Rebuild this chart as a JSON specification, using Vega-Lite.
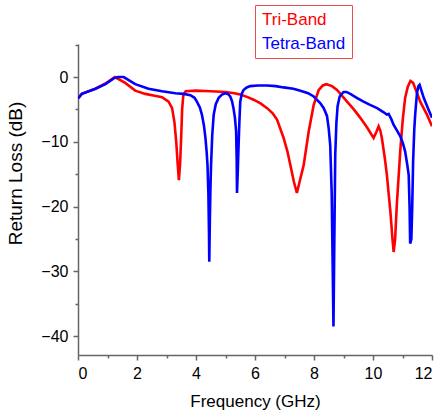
{
  "$schema": "https://vega.github.io/schema/vega-lite/v6.json",
  "width": 354,
  "height": 311,
  "autosize": "none",
  "padding": {"left": 78, "top": 44, "right": 9, "bottom": 61},
  "background": "white",
  "config": {
    "view": {"stroke": null},
    "font": "Liberation Sans",
    "axis": {
      "grid": false,
      "domainColor": "#666666",
      "domainWidth": 1.5,
      "tickColor": "#666666",
      "tickWidth": 1.5,
      "labelColor": "#000000",
      "labelFont": "Liberation Sans",
      "labelFontSize": 16,
      "titleColor": "#000000",
      "titleFont": "Liberation Sans",
      "titleFontWeight": "normal"
    }
  },
  "datasets": {
    "curves": [
      {"f": 0, "rl": -3.3, "band": "Tri-Band"},
      {"f": 0.13, "rl": -2.6, "band": "Tri-Band"},
      {"f": 0.59, "rl": -1.8, "band": "Tri-Band"},
      {"f": 0.93, "rl": -1.0, "band": "Tri-Band"},
      {"f": 1.25, "rl": 0.0, "band": "Tri-Band"},
      {"f": 1.6, "rl": -0.9, "band": "Tri-Band"},
      {"f": 1.94, "rl": -2.1, "band": "Tri-Band"},
      {"f": 2.28, "rl": -2.6, "band": "Tri-Band"},
      {"f": 2.6, "rl": -2.9, "band": "Tri-Band"},
      {"f": 2.85, "rl": -3.1, "band": "Tri-Band"},
      {"f": 3.07, "rl": -3.8, "band": "Tri-Band"},
      {"f": 3.19, "rl": -4.8, "band": "Tri-Band"},
      {"f": 3.27, "rl": -7.0, "band": "Tri-Band"},
      {"f": 3.33, "rl": -10.0, "band": "Tri-Band"},
      {"f": 3.38, "rl": -13.5, "band": "Tri-Band"},
      {"f": 3.42, "rl": -15.9, "band": "Tri-Band"},
      {"f": 3.46, "rl": -13.5, "band": "Tri-Band"},
      {"f": 3.5, "rl": -9.0, "band": "Tri-Band"},
      {"f": 3.53, "rl": -5.0, "band": "Tri-Band"},
      {"f": 3.57, "rl": -2.8, "band": "Tri-Band"},
      {"f": 3.65, "rl": -2.2, "band": "Tri-Band"},
      {"f": 4.0, "rl": -2.1, "band": "Tri-Band"},
      {"f": 4.5, "rl": -2.2, "band": "Tri-Band"},
      {"f": 5.0, "rl": -2.3, "band": "Tri-Band"},
      {"f": 5.3, "rl": -2.5, "band": "Tri-Band"},
      {"f": 5.5, "rl": -2.7, "band": "Tri-Band"},
      {"f": 5.75, "rl": -3.1, "band": "Tri-Band"},
      {"f": 5.95, "rl": -3.5, "band": "Tri-Band"},
      {"f": 6.2, "rl": -4.1, "band": "Tri-Band"},
      {"f": 6.41, "rl": -4.8, "band": "Tri-Band"},
      {"f": 6.6, "rl": -5.6, "band": "Tri-Band"},
      {"f": 6.75, "rl": -6.6, "band": "Tri-Band"},
      {"f": 6.97, "rl": -9.4, "band": "Tri-Band"},
      {"f": 7.1, "rl": -11.5, "band": "Tri-Band"},
      {"f": 7.2, "rl": -13.6, "band": "Tri-Band"},
      {"f": 7.32, "rl": -16.2, "band": "Tri-Band"},
      {"f": 7.42, "rl": -17.9, "band": "Tri-Band"},
      {"f": 7.52, "rl": -16.0, "band": "Tri-Band"},
      {"f": 7.65, "rl": -13.6, "band": "Tri-Band"},
      {"f": 7.82, "rl": -8.4, "band": "Tri-Band"},
      {"f": 7.99, "rl": -4.3, "band": "Tri-Band"},
      {"f": 8.16, "rl": -2.0, "band": "Tri-Band"},
      {"f": 8.3, "rl": -1.3, "band": "Tri-Band"},
      {"f": 8.42, "rl": -1.1, "band": "Tri-Band"},
      {"f": 8.61, "rl": -1.4, "band": "Tri-Band"},
      {"f": 8.78, "rl": -2.0, "band": "Tri-Band"},
      {"f": 9.12, "rl": -3.8, "band": "Tri-Band"},
      {"f": 9.35, "rl": -5.0, "band": "Tri-Band"},
      {"f": 9.57, "rl": -6.3, "band": "Tri-Band"},
      {"f": 9.8, "rl": -7.8, "band": "Tri-Band"},
      {"f": 10.02, "rl": -9.4, "band": "Tri-Band"},
      {"f": 10.12, "rl": -8.4, "band": "Tri-Band"},
      {"f": 10.19, "rl": -7.6, "band": "Tri-Band"},
      {"f": 10.25, "rl": -8.3, "band": "Tri-Band"},
      {"f": 10.3, "rl": -9.4, "band": "Tri-Band"},
      {"f": 10.4, "rl": -12.5, "band": "Tri-Band"},
      {"f": 10.47, "rl": -15.1, "band": "Tri-Band"},
      {"f": 10.59, "rl": -20.8, "band": "Tri-Band"},
      {"f": 10.66, "rl": -25.0, "band": "Tri-Band"},
      {"f": 10.7, "rl": -27.0, "band": "Tri-Band"},
      {"f": 10.75, "rl": -25.0, "band": "Tri-Band"},
      {"f": 10.81, "rl": -19.5, "band": "Tri-Band"},
      {"f": 10.93, "rl": -11.0, "band": "Tri-Band"},
      {"f": 11.01, "rl": -6.5, "band": "Tri-Band"},
      {"f": 11.09, "rl": -3.2, "band": "Tri-Band"},
      {"f": 11.18, "rl": -1.5, "band": "Tri-Band"},
      {"f": 11.27, "rl": -0.6, "band": "Tri-Band"},
      {"f": 11.36, "rl": -0.9, "band": "Tri-Band"},
      {"f": 11.48, "rl": -2.3, "band": "Tri-Band"},
      {"f": 11.6, "rl": -3.8, "band": "Tri-Band"},
      {"f": 11.83, "rl": -5.8, "band": "Tri-Band"},
      {"f": 12.0, "rl": -7.6, "band": "Tri-Band"},
      {"f": 0, "rl": -3.3, "band": "Tetra-Band"},
      {"f": 0.13, "rl": -2.6, "band": "Tetra-Band"},
      {"f": 0.59, "rl": -1.8, "band": "Tetra-Band"},
      {"f": 0.93, "rl": -1.1, "band": "Tetra-Band"},
      {"f": 1.21, "rl": -0.2, "band": "Tetra-Band"},
      {"f": 1.35, "rl": 0.0, "band": "Tetra-Band"},
      {"f": 1.55, "rl": 0.0, "band": "Tetra-Band"},
      {"f": 1.94, "rl": -1.1, "band": "Tetra-Band"},
      {"f": 2.39, "rl": -1.8, "band": "Tetra-Band"},
      {"f": 2.85, "rl": -2.2, "band": "Tetra-Band"},
      {"f": 3.3, "rl": -2.5, "band": "Tetra-Band"},
      {"f": 3.58, "rl": -2.6, "band": "Tetra-Band"},
      {"f": 3.81, "rl": -2.8, "band": "Tetra-Band"},
      {"f": 3.95, "rl": -3.2, "band": "Tetra-Band"},
      {"f": 4.03, "rl": -3.8, "band": "Tetra-Band"},
      {"f": 4.13, "rl": -4.7, "band": "Tetra-Band"},
      {"f": 4.2, "rl": -5.8, "band": "Tetra-Band"},
      {"f": 4.27, "rl": -7.5, "band": "Tetra-Band"},
      {"f": 4.32, "rl": -9.4, "band": "Tetra-Band"},
      {"f": 4.36, "rl": -11.5, "band": "Tetra-Band"},
      {"f": 4.39, "rl": -13.6, "band": "Tetra-Band"},
      {"f": 4.42, "rl": -18.0, "band": "Tetra-Band"},
      {"f": 4.44, "rl": -24.0, "band": "Tetra-Band"},
      {"f": 4.45, "rl": -28.5, "band": "Tetra-Band"},
      {"f": 4.47, "rl": -22.0, "band": "Tetra-Band"},
      {"f": 4.49, "rl": -17.0, "band": "Tetra-Band"},
      {"f": 4.51, "rl": -13.6, "band": "Tetra-Band"},
      {"f": 4.55, "rl": -9.0, "band": "Tetra-Band"},
      {"f": 4.6, "rl": -5.8, "band": "Tetra-Band"},
      {"f": 4.67, "rl": -4.2, "band": "Tetra-Band"},
      {"f": 4.77, "rl": -3.2, "band": "Tetra-Band"},
      {"f": 4.88, "rl": -2.7, "band": "Tetra-Band"},
      {"f": 4.99, "rl": -2.5, "band": "Tetra-Band"},
      {"f": 5.08, "rl": -2.6, "band": "Tetra-Band"},
      {"f": 5.16, "rl": -3.0, "band": "Tetra-Band"},
      {"f": 5.22, "rl": -3.7, "band": "Tetra-Band"},
      {"f": 5.27, "rl": -4.8, "band": "Tetra-Band"},
      {"f": 5.32, "rl": -6.3, "band": "Tetra-Band"},
      {"f": 5.36, "rl": -8.4, "band": "Tetra-Band"},
      {"f": 5.38, "rl": -13.0, "band": "Tetra-Band"},
      {"f": 5.39, "rl": -17.9, "band": "Tetra-Band"},
      {"f": 5.42, "rl": -14.0, "band": "Tetra-Band"},
      {"f": 5.44, "rl": -11.0, "band": "Tetra-Band"},
      {"f": 5.47, "rl": -7.0, "band": "Tetra-Band"},
      {"f": 5.5, "rl": -3.8, "band": "Tetra-Band"},
      {"f": 5.55, "rl": -2.6, "band": "Tetra-Band"},
      {"f": 5.61, "rl": -2.0, "band": "Tetra-Band"},
      {"f": 5.72, "rl": -1.6, "band": "Tetra-Band"},
      {"f": 5.84, "rl": -1.4, "band": "Tetra-Band"},
      {"f": 6.1, "rl": -1.3, "band": "Tetra-Band"},
      {"f": 6.41, "rl": -1.3, "band": "Tetra-Band"},
      {"f": 6.7, "rl": -1.4, "band": "Tetra-Band"},
      {"f": 6.97, "rl": -1.6, "band": "Tetra-Band"},
      {"f": 7.3, "rl": -1.8, "band": "Tetra-Band"},
      {"f": 7.54, "rl": -2.1, "band": "Tetra-Band"},
      {"f": 7.8, "rl": -2.5, "band": "Tetra-Band"},
      {"f": 7.99, "rl": -3.0, "band": "Tetra-Band"},
      {"f": 8.21, "rl": -4.0, "band": "Tetra-Band"},
      {"f": 8.33, "rl": -4.8, "band": "Tetra-Band"},
      {"f": 8.44, "rl": -6.0, "band": "Tetra-Band"},
      {"f": 8.5, "rl": -8.0, "band": "Tetra-Band"},
      {"f": 8.55, "rl": -10.5, "band": "Tetra-Band"},
      {"f": 8.6, "rl": -18.0, "band": "Tetra-Band"},
      {"f": 8.63, "rl": -28.0, "band": "Tetra-Band"},
      {"f": 8.66, "rl": -38.5, "band": "Tetra-Band"},
      {"f": 8.69, "rl": -25.0, "band": "Tetra-Band"},
      {"f": 8.72, "rl": -12.0, "band": "Tetra-Band"},
      {"f": 8.76, "rl": -7.0, "band": "Tetra-Band"},
      {"f": 8.8, "rl": -4.5, "band": "Tetra-Band"},
      {"f": 8.87, "rl": -3.0, "band": "Tetra-Band"},
      {"f": 9.0, "rl": -2.3, "band": "Tetra-Band"},
      {"f": 9.1, "rl": -2.3, "band": "Tetra-Band"},
      {"f": 9.23, "rl": -2.6, "band": "Tetra-Band"},
      {"f": 9.45, "rl": -3.2, "band": "Tetra-Band"},
      {"f": 9.68, "rl": -3.8, "band": "Tetra-Band"},
      {"f": 9.9, "rl": -4.3, "band": "Tetra-Band"},
      {"f": 10.14, "rl": -4.8, "band": "Tetra-Band"},
      {"f": 10.35, "rl": -5.4, "band": "Tetra-Band"},
      {"f": 10.47, "rl": -5.8, "band": "Tetra-Band"},
      {"f": 10.53, "rl": -5.7, "band": "Tetra-Band"},
      {"f": 10.62, "rl": -6.5, "band": "Tetra-Band"},
      {"f": 10.7, "rl": -7.4, "band": "Tetra-Band"},
      {"f": 10.82, "rl": -8.3, "band": "Tetra-Band"},
      {"f": 10.93, "rl": -9.2, "band": "Tetra-Band"},
      {"f": 11.02, "rl": -10.3, "band": "Tetra-Band"},
      {"f": 11.09, "rl": -11.5, "band": "Tetra-Band"},
      {"f": 11.16, "rl": -13.5, "band": "Tetra-Band"},
      {"f": 11.21, "rl": -15.1, "band": "Tetra-Band"},
      {"f": 11.24, "rl": -20.0, "band": "Tetra-Band"},
      {"f": 11.26, "rl": -25.7, "band": "Tetra-Band"},
      {"f": 11.3, "rl": -25.0, "band": "Tetra-Band"},
      {"f": 11.33, "rl": -20.0, "band": "Tetra-Band"},
      {"f": 11.36, "rl": -13.0, "band": "Tetra-Band"},
      {"f": 11.4, "rl": -8.0, "band": "Tetra-Band"},
      {"f": 11.43, "rl": -5.8, "band": "Tetra-Band"},
      {"f": 11.49, "rl": -2.5, "band": "Tetra-Band"},
      {"f": 11.54, "rl": -1.4, "band": "Tetra-Band"},
      {"f": 11.58, "rl": -1.2, "band": "Tetra-Band"},
      {"f": 11.65, "rl": -2.2, "band": "Tetra-Band"},
      {"f": 11.72, "rl": -3.2, "band": "Tetra-Band"},
      {"f": 11.88, "rl": -5.0, "band": "Tetra-Band"},
      {"f": 12.0, "rl": -6.3, "band": "Tetra-Band"}
    ]
  },
  "data": {"name": "curves"},
  "layer": [
    {
      "mark": {"type": "point", "opacity": 0},
      "encoding": {
        "x": {"field": "f", "type": "quantitative",
          "scale": {"domain": [0, 12], "nice": false, "zero": false},
          "axis": {"orient": "bottom", "values": [1, 3, 5, 7, 9, 11], "labels": false, "domain": false, "tickSize": 3, "title": null}},
        "y": {"field": "rl", "type": "quantitative",
          "scale": {"domain": [-42.9, 5.1], "nice": false, "zero": false},
          "axis": {"orient": "left", "values": [-35, -25, -15, -5, 5], "labels": false, "domain": false, "tickSize": 3, "title": null}}
      }
    },
    {
      "transform": [{"filter": "datum.band === 'Tri-Band'"}],
      "mark": {"type": "line", "strokeWidth": 2.6, "clip": true},
      "encoding": {
        "x": {"field": "f", "type": "quantitative",
          "scale": {"domain": [0, 12], "nice": false, "zero": false},
          "axis": {"orient": "bottom", "values": [0, 2, 4, 6, 8, 10, 12], "tickSize": 5, "labelPadding": 5, "title": "Frequency (GHz)", "titleFontSize": 17, "titlePadding": 12}},
        "y": {"field": "rl", "type": "quantitative",
          "scale": {"domain": [-42.9, 5.1], "nice": false, "zero": false},
          "axis": {"orient": "left", "values": [0, -10, -20, -30, -40], "tickSize": 5, "labelPadding": 5, "title": "Return Loss (dB)", "titleFontSize": 19, "titlePadding": 15, "titleY": 129}},
        "color": {"field": "band", "type": "nominal",
          "scale": {"domain": ["Tri-Band", "Tetra-Band"], "range": ["#ff0000", "#0000ff"]},
          "legend": {"orient": "none", "legendX": 177, "legendY": -39, "title": null,
            "symbolSize": 0, "symbolOpacity": 0, "symbolStrokeWidth": 0, "labelOffset": -16,
            "labelFontSize": 17, "labelFont": "Liberation Sans", "padding": 6, "rowPadding": 6,
            "strokeColor": "#e85050", "fillColor": "#ffffff",
            "encode": {"labels": {"update": {"fill": {"scale": "color", "field": "value"}}}}}},
        "order": {"field": "f", "type": "quantitative"}
      }
    },
    {
      "transform": [{"filter": "datum.band === 'Tetra-Band'"}],
      "mark": {"type": "line", "strokeWidth": 2.6, "clip": true},
      "encoding": {
        "x": {"field": "f", "type": "quantitative", "axis": null},
        "y": {"field": "rl", "type": "quantitative", "axis": null},
        "color": {"field": "band", "type": "nominal"},
        "order": {"field": "f", "type": "quantitative"}
      }
    }
  ],
  "resolve": {"axis": {"x": "independent", "y": "independent"}}
}
